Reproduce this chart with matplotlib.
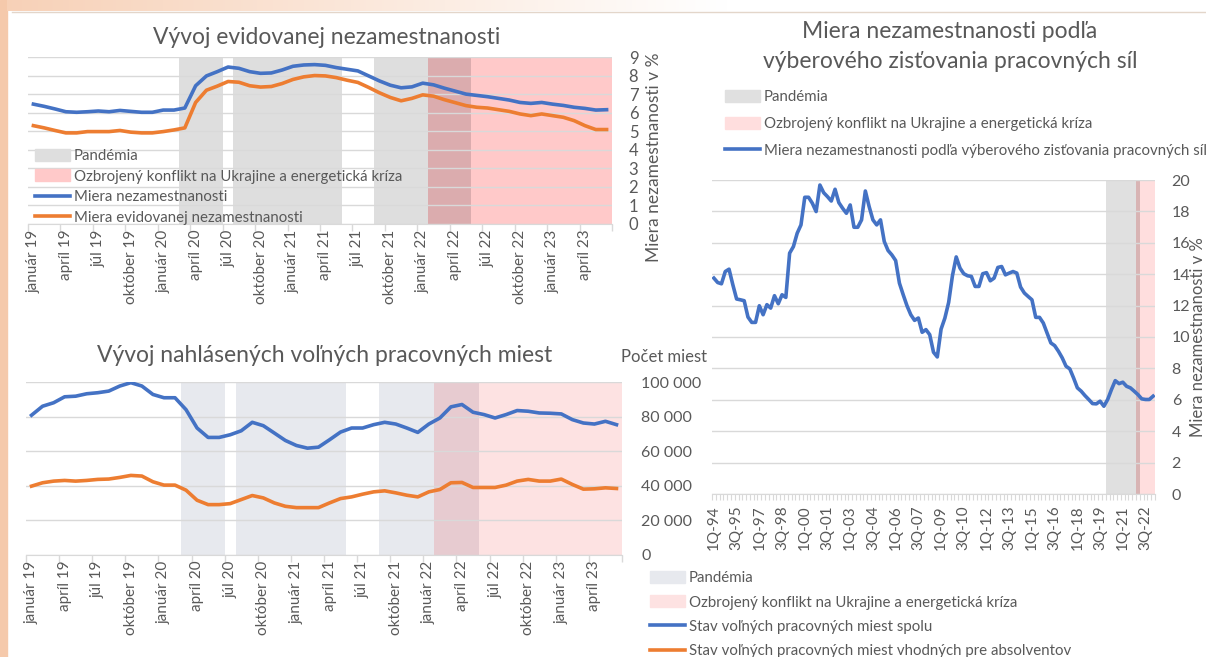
import matplotlib
matplotlib.use('Agg')
import matplotlib.pyplot as plt
from matplotlib.patches import Patch, Rectangle
from matplotlib.lines import Line2D
import numpy as np

plt.rcParams['font.family'] = ['Lato', 'DejaVu Sans']

# ---------------- data ----------------
month_ticks = ['január 19', 'apríl 19', 'júl 19', 'október 19', 'január 20', 'apríl 20',
               'júl 20', 'október 20', 'január 21', 'apríl 21', 'júl 21', 'október 21',
               'január 22', 'apríl 22', 'júl 22', 'október 22', 'január 23', 'apríl 23']

# monthly Jan 2019 - Jun 2023
unemp_rate = [6.46, 6.34, 6.20, 6.05, 6.02, 6.05, 6.09, 6.05, 6.12, 6.07, 6.02, 6.02,
              6.14, 6.14, 6.25, 7.45, 7.98, 8.21, 8.46, 8.39, 8.21, 8.12, 8.14, 8.30,
              8.50, 8.57, 8.59, 8.55, 8.43, 8.34, 8.25, 7.98, 7.71, 7.48, 7.34, 7.39,
              7.59, 7.50, 7.32, 7.16, 7.00, 6.93, 6.86, 6.77, 6.68, 6.55, 6.50, 6.55,
              6.46, 6.39, 6.29, 6.23, 6.14, 6.16]
reg_unemp = [5.30, 5.18, 5.04, 4.91, 4.91, 4.98, 4.98, 4.98, 5.04, 4.95, 4.91, 4.91,
             4.98, 5.07, 5.18, 6.55, 7.21, 7.43, 7.68, 7.64, 7.45, 7.38, 7.41, 7.57,
             7.79, 7.93, 8.00, 7.98, 7.89, 7.75, 7.63, 7.36, 7.07, 6.82, 6.64, 6.77,
             6.96, 6.89, 6.70, 6.54, 6.38, 6.29, 6.25, 6.16, 6.07, 5.93, 5.84, 5.93,
             5.84, 5.75, 5.57, 5.30, 5.09, 5.09]
vacancies_total = [80800, 86000, 88000, 91450, 91800, 93200, 93800, 94750, 97670, 99600,
                   97670, 92800, 90900, 90900, 84000, 73400, 67960, 67960, 69500, 71800,
                   76700, 74750, 70500, 66200, 63300, 61750, 62330, 66600, 71060, 73400,
                   73400, 75340, 76700, 75700, 73400, 70870, 75700, 79200, 85630, 86990,
                   82520, 81165, 79200, 81165, 83500, 83100, 82100, 81940, 81550, 78250,
                   76300, 75700, 77280, 75340]
vacancies_grad = [39800, 41750, 42700, 43100, 42700, 43100, 43700, 43900, 44850, 46000,
                  45630, 42330, 40400, 40400, 37470, 31650, 29120, 29120, 29700, 32040,
                  34370, 33000, 30100, 28150, 27380, 27380, 27380, 30100, 32620, 33590,
                  35150, 36500, 37090, 35920, 34560, 33590, 36500, 37860, 41750, 41940,
                  39030, 39030, 39030, 40390, 42720, 43690, 42720, 42720, 43880, 40780,
                  38060, 38250, 38830, 38440]
pandemic_m = [0]*14 + [1]*4 + [0] + [1]*10 + [0]*3 + [1]*9 + [0]*13
conflict_m = [0]*37 + [1]*17

quarter_ticks = ['1Q-94', '3Q-95', '1Q-97', '3Q-98', '1Q-00', '3Q-01', '1Q-03', '3Q-04',
                 '1Q-06', '3Q-07', '1Q-09', '3Q-10', '1Q-12', '3Q-13', '1Q-15', '3Q-16',
                 '1Q-18', '3Q-19', '1Q-21', '3Q-22']
# quarterly 1Q-94 - 1Q-23
lfs_rate = [13.75, 13.47, 13.39, 14.17, 14.32, 13.33, 12.42, 12.37, 12.31, 11.27,
            10.93, 10.93, 11.99, 11.42, 12.06, 11.84, 12.63, 12.12, 12.69, 12.52,
            15.34, 15.76, 16.61, 17.14, 18.90, 18.90, 18.52, 17.99, 19.68, 19.19,
            18.94, 18.66, 19.41, 18.56, 18.20, 17.88, 18.41, 16.99, 16.99, 17.46,
            19.30, 18.31, 17.46, 17.14, 17.46, 16.08, 15.51, 15.23, 14.87, 13.43,
            12.69, 11.99, 11.42, 11.06, 11.21, 10.30, 10.47, 10.15, 9.03, 8.73,
            10.50, 11.20, 12.20, 13.90, 15.10, 14.39, 14.03, 13.90, 13.86, 13.22,
            13.22, 14.03, 14.10, 13.58, 13.75, 14.43, 14.49, 13.96, 14.07, 14.17,
            14.07, 13.18, 12.80, 12.58, 12.37, 11.25, 11.25, 10.89, 10.25, 9.62,
            9.45, 9.09, 8.67, 8.14, 7.97, 7.39, 6.76, 6.55, 6.27, 6.02,
            5.76, 5.74, 5.91, 5.59, 6.02, 6.65, 7.22, 7.03, 7.12, 6.86,
            6.76, 6.55, 6.33, 6.06, 6.02, 6.02, 6.23]
pandemic_q = [0]*104 + [1]*9 + [0]*4
conflict_q = [0]*112 + [1]*5

# ---------------- style ----------------
BLUE = '#4472C4'
ORANGE = '#ED7D31'
TXT = '#595959'
GRID = '#d9d9d9'
LW = 2.6
LEG_FS = 10.8
TICK_FS = 11
TITLE_FS = 16.5

W, H = 1206, 657
fig = plt.figure(figsize=(W / 100, H / 100), dpi=100, facecolor='white')


def px_axes(l, t, r, b, **kw):
    return fig.add_axes([l / W, 1 - b / H, (r - l) / W, (b - t) / H], **kw)


def ftext(x, y, s, **kw):
    return fig.text(x / W, 1 - y / H, s, **kw)


# decoration: slide background strip
fig.patches.append(Rectangle((0, 0), 7 / W, 1, transform=fig.transFigure,
                             color='#f5c9ab', zorder=-5))
grad = np.linspace(0, 1, 600)
top = fig.add_axes([7 / W, 1 - 11 / H, 1 - 7 / W, 11 / H], zorder=-4)
c0 = np.array([0.97, 0.82, 0.72])
c1 = np.array([1.0, 1.0, 1.0])
t = np.clip(grad / 0.6, 0, 1)[None, :, None]
top.imshow(c0 * (1 - t) + c1 * t, aspect='auto', extent=[0, 1, 0, 1])
top.axis('off')
fig.add_artist(Line2D([12 / W, 1], [1 - 11.5 / H, 1 - 11.5 / H], transform=fig.transFigure,
                      color='#e3d6ca', lw=1))


def shading(pos, n, pand, conf, cg, cp, co):
    axb = px_axes(*pos)
    x = np.arange(n)
    pand = np.array(pand)
    conf = np.array(conf)
    both = pand * conf
    kw = dict(width=1.0, linewidth=0, antialiased=False)
    axb.bar(x, pand, color=cg, **kw)
    axb.bar(x, conf, color=cp, **kw)
    axb.bar(x, both, color=co, **kw)
    axb.set_xlim(-0.5, n - 0.5)
    axb.set_ylim(0, 1)
    axb.axis('off')
    return axb


def month_axis(ax, n):
    ax.set_xlim(-0.5, n - 0.5)
    ax.set_xticks(np.arange(-0.5, n, 3))
    ax.set_xticklabels([])
    ax.set_xticks(np.arange(0, n, 3), minor=True)
    ax.set_xticklabels(month_ticks, minor=True, rotation=90, fontsize=TICK_FS, color=TXT)
    ax.tick_params(axis='x', which='major', length=5, color=GRID, width=1)
    ax.tick_params(axis='x', which='minor', length=0, pad=4)
    for s in ['top', 'left', 'right']:
        ax.spines[s].set_visible(False)
    ax.spines['bottom'].set_color(GRID)
    ax.grid(axis='y', color=GRID, lw=1)
    ax.set_axisbelow(True)
    ax.yaxis.tick_right()


def legend(ax, handles, labels, x, y, spacing):
    ax.legend(handles, labels, loc='upper left', bbox_to_anchor=(x / W, 1 - y / H),
              bbox_transform=fig.transFigure, frameon=False, borderpad=0, borderaxespad=0,
              handlelength=2.35, handleheight=0.85, handletextpad=0.25,
              labelspacing=spacing, fontsize=LEG_FS, labelcolor=TXT)


# ---------------- panel 1 ----------------
n = len(unemp_rate)
pos1 = (28, 57, 612, 224)
shading(pos1, n, pandemic_m, conflict_m, '#dedede', '#ffc9c9', '#dbacae')
ax1 = px_axes(*pos1, facecolor='none')
xm = np.arange(n)
ax1.plot(xm, unemp_rate, color=BLUE, lw=LW, solid_joinstyle='round')
ax1.plot(xm, reg_unemp, color=ORANGE, lw=LW, solid_joinstyle='round')
month_axis(ax1, n)
ax1.set_ylim(0, 9)
ax1.set_yticks(range(10))
ax1.tick_params(axis='y', length=0, pad=12, labelsize=12, labelcolor=TXT)
ftext(327, 37, 'Vývoj evidovanej nezamestnanosti', ha='center', va='center',
      fontsize=TITLE_FS, color=TXT)
ftext(654, 157, 'Miera nezamestnanosti v %', rotation=90, ha='center', va='center',
      fontsize=12.5, color=TXT)
h1 = [Patch(color='#dedede'), Patch(color='#ffc9c9'),
      Line2D([], [], color=BLUE, lw=LW), Line2D([], [], color=ORANGE, lw=LW)]
l1 = ['Pandémia', 'Ozbrojený konflikt na Ukrajine a energetická kríza',
      'Miera nezamestnanosti', 'Miera evidovanej nezamestnanosti']
legend(ax1, h1, l1, 35, 149, 0.42)

# ---------------- panel 2 ----------------
pos2 = (26, 382, 622, 555)
shading(pos2, n, pandemic_m, conflict_m, '#e7e9ee', '#fde2e2', '#e7cbd0')
ax2 = px_axes(*pos2, facecolor='none')
ax2.plot(xm, vacancies_total, color=BLUE, lw=LW, solid_joinstyle='round')
ax2.plot(xm, vacancies_grad, color=ORANGE, lw=LW, solid_joinstyle='round')
month_axis(ax2, n)
ax2.set_ylim(0, 100000)
ax2.set_yticks(range(0, 100001, 20000))
ax2.set_yticklabels([f'{v:,}'.replace(',', ' ') for v in range(0, 100001, 20000)])
ax2.tick_params(axis='y', length=0, pad=14, labelsize=11.5, labelcolor=TXT)
ftext(325, 356, 'Vývoj nahlásených voľných pracovných miest', ha='center', va='center',
      fontsize=TITLE_FS, color=TXT)
ftext(621, 357, 'Počet miest', ha='left', va='center', fontsize=12, color=TXT)
h2 = [Patch(color='#e7e9ee'), Patch(color='#fde2e2'),
      Line2D([], [], color=BLUE, lw=LW), Line2D([], [], color=ORANGE, lw=LW)]
l2 = ['Pandémia', 'Ozbrojený konflikt na Ukrajine a energetická kríza',
      'Stav voľných pracovných miest spolu',
      'Stav voľných pracovných miest vhodných pre absolventov']
legend(ax2, h2, l2, 650, 571, 0.68)

# ---------------- panel 3 ----------------
nq = len(lfs_rate)
pos3 = (712, 180, 1155, 494)
shading(pos3, nq, pandemic_q, conflict_q, '#e0e0e0', '#ffdede', '#d8b4b4')
ax3 = px_axes(*pos3, facecolor='none')
xq = np.arange(nq)
ax3.plot(xq, lfs_rate, color=BLUE, lw=LW, solid_joinstyle='round')
ax3.set_xlim(-0.5, nq - 0.5)
ax3.set_xticks(np.arange(0, nq, 6))
ax3.set_xticklabels(quarter_ticks, rotation=90, fontsize=TICK_FS, color=TXT)
ax3.set_xticks(np.arange(-0.5, nq, 1), minor=True)
ax3.tick_params(axis='x', which='major', length=0, pad=8)
ax3.tick_params(axis='x', which='minor', length=4, color=GRID, width=0.8)
for s in ['top', 'left', 'right']:
    ax3.spines[s].set_visible(False)
ax3.spines['bottom'].set_color(GRID)
ax3.grid(axis='y', color=GRID, lw=1)
ax3.set_axisbelow(True)
ax3.yaxis.tick_right()
ax3.set_ylim(0, 20)
ax3.set_yticks(range(0, 21, 2))
ax3.tick_params(axis='y', length=0, pad=12, labelsize=11.5, labelcolor=TXT)
ftext(950, 31, 'Miera nezamestnanosti podľa', ha='center', va='center', fontsize=TITLE_FS,
      color=TXT)
ftext(950, 62, 'výberového zisťovania pracovných síl', ha='center', va='center',
      fontsize=TITLE_FS, color=TXT)
ftext(1198, 337, 'Miera nezamestnanosti v %', rotation=90, ha='center', va='center',
      fontsize=12, color=TXT)
h3 = [Patch(color='#e0e0e0'), Patch(color='#ffdede'), Line2D([], [], color=BLUE, lw=LW)]
l3 = ['Pandémia', 'Ozbrojený konflikt na Ukrajine a energetická kríza',
      'Miera nezamestnanosti podľa výberového zisťovania pracovných síl']
legend(ax3, h3, l3, 725, 90, 0.85)

fig.savefig('out.png', dpi=100, facecolor=fig.get_facecolor())
